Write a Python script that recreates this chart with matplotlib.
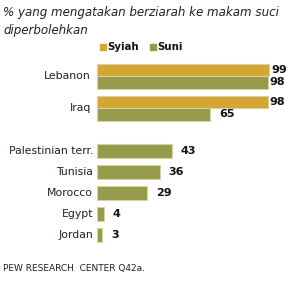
import matplotlib
matplotlib.use("Agg")
import matplotlib.pyplot as plt
from matplotlib.patches import Rectangle

# data
pair_countries = ["Lebanon", "Iraq"]
syiah = [99, 98]
suni_pair = [98, 65]

single_countries = ["Palestinian terr.", "Tunisia", "Morocco", "Egypt", "Jordan"]
suni_single = [43, 36, 29, 4, 3]

title = "% yang mengatakan berziarah ke makam suci\ndiperbolehkan"
legend_labels = ["Syiah", "Suni"]
source = "PEW RESEARCH  CENTER Q42a."

GOLD = "#d4a632"
OLIVE = "#959b4b"
EDGE = "#d6d2a2"
TXT = "#2a1a2a"

W, H = 293, 281
X0 = 97          # pixel where bars start
SCALE = 1.74     # pixels per percent

fig = plt.figure(figsize=(W / 100, H / 100), dpi=100)
ax = fig.add_axes([0, 0, 1, 1])
ax.set_xlim(-X0 / SCALE, (W - X0) / SCALE)
ax.set_ylim(H, 0)
ax.axis("off")

def px(n):
    return n / SCALE

# title and legend
fig.text(3 / W, 1 - 6 / H, title, ha="left", va="top", fontsize=8.6,
         style="italic", color="#222222", linespacing=1.5)
ly = 47
for i, (lab, col) in enumerate(zip(legend_labels, [GOLD, OLIVE])):
    lx = px(100 + i * 50) - px(X0)
    ax.add_patch(Rectangle((lx, ly - 3), px(6), 6, color=col))
    ax.text(lx + px(7), ly, lab, fontsize=7.3, fontweight="bold",
            va="center", ha="left", color="#111111")

def value_label(v, yc):
    off = 2 if v >= 90 else 9
    ax.text(v + px(off), yc, str(v), fontsize=8, fontweight="bold",
            va="center", ha="left", color="#111111")

# paired rows
bh = 12.5
for i, c in enumerate(pair_countries):
    yc = 76 + 32 * i
    ax.barh(yc - bh / 2, syiah[i], height=bh, color=GOLD, edgecolor=EDGE, lw=0.8)
    ax.barh(yc + bh / 2, suni_pair[i], height=bh, color=OLIVE, edgecolor=EDGE, lw=0.8)
    value_label(syiah[i], yc - bh / 2)
    value_label(suni_pair[i], yc + bh / 2)
    ax.text(-px(6), yc, c, ha="right", va="center", fontsize=7.8, color=TXT)

# single rows
for i, (c, v) in enumerate(zip(single_countries, suni_single)):
    yc = 151 + 21 * i
    ax.barh(yc, v, height=14, color=OLIVE, edgecolor=EDGE, lw=0.8)
    value_label(v, yc)
    ax.text(-px(4), yc, c, ha="right", va="center", fontsize=7.8, color=TXT)

fig.text(3 / W, 1 - 269 / H, source, ha="left", va="center", fontsize=6.5,
         color=TXT)

fig.savefig("out.png", dpi=100)
